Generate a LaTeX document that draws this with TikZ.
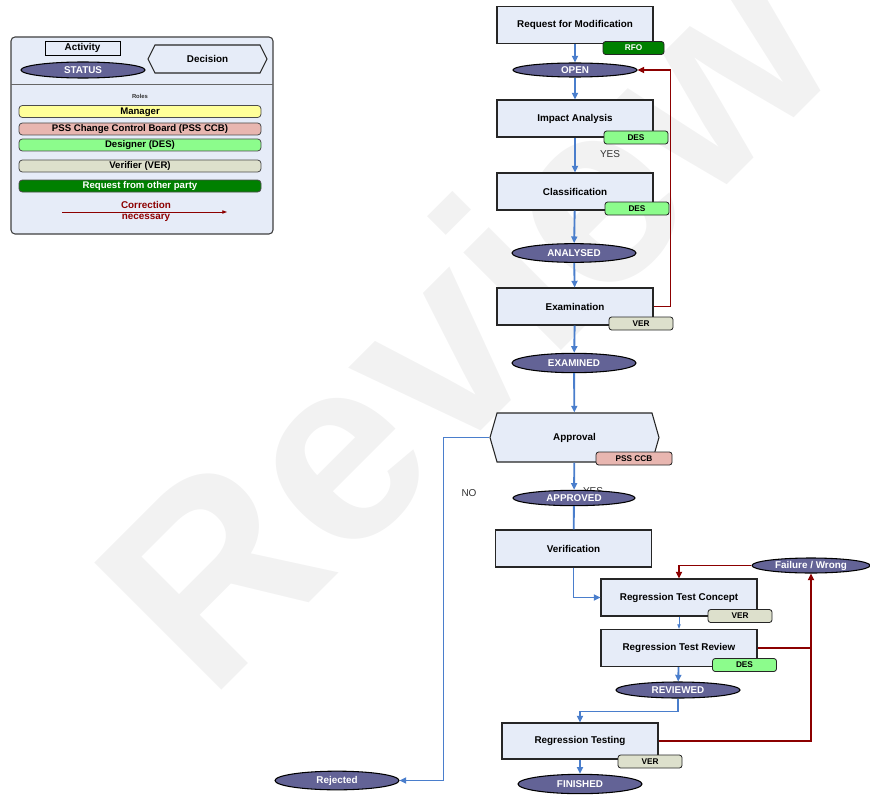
\documentclass[tikz,border=0pt]{standalone}
\usepackage{fontspec}
\setmainfont{Liberation Sans}
\usetikzlibrary{shapes.geometric,shapes.symbols,arrows.meta}

\definecolor{actfill}{RGB}{230,236,248}
\definecolor{statfill}{RGB}{99,99,150}
\definecolor{flowblue}{RGB}{74,126,204}
\definecolor{corrred}{RGB}{140,0,0}
\definecolor{rfogreen}{RGB}{0,128,0}
\definecolor{desgreen}{RGB}{140,252,140}
\definecolor{vergray}{RGB}{221,224,204}
\definecolor{ccbrose}{RGB}{232,182,176}
\definecolor{mgryellow}{RGB}{255,255,153}

\tikzset{
  activity/.style={draw=black!85, line width=0.8pt, fill=actfill, minimum width=117pt, minimum height=27.75pt, inner sep=0pt, font=\bfseries\fontsize{7.4}{9}\selectfont},
  status/.style={ellipse, draw=black, line width=0.8pt, fill=statfill, text=white, minimum width=93pt, minimum height=13pt, inner sep=0pt, font=\bfseries\fontsize{7.4}{9}\selectfont},
  decision/.style={signal, signal to=west and east, draw=black!85, line width=0.8pt, fill=actfill, inner sep=0pt, font=\bfseries\fontsize{7.4}{9}\selectfont},
  roletag/.style={draw=black!85, rounded corners=2pt, line width=0.6pt, minimum width=48pt, minimum height=9.75pt, inner sep=0pt, font=\bfseries\fontsize{6.2}{7}\selectfont},
  rolebar/.style={draw=black!70, rounded corners=2.5pt, line width=0.6pt, minimum width=181.5pt, minimum height=9pt, inner sep=0pt, text height=5.2pt, text depth=1.4pt, font=\bfseries\fontsize{7.2}{8}\selectfont},
  flow/.style={flowblue, line width=1.4pt, -{Triangle[length=5pt,width=4.5pt]}},
  corr/.style={corrred, line width=1.4pt, -{Triangle[length=5pt,width=4.5pt]}},
  plain/.style={font=\fontsize{7.5}{9}\selectfont, text=black!80},
}

\begin{document}
\begin{tikzpicture}[x=0.75pt,y=0.75pt,yscale=-1,xscale=1]
\useasboundingbox (0,0) rectangle (870,795);

% Watermark
\node [rotate=45, text=black!5, font=\bfseries\fontsize{196}{196}\selectfont] (wm) at (462,318) {Review};

%Legend frame
\draw [rounded corners=3pt, fill=actfill, draw=black!75, line width=0.8pt] (11,37) rectangle (273,234);
\draw [black!60, line width=0.6pt] (11,84) -- (273,84);

% Legend nodes
\node [draw=black, line width=0.6pt, fill=actfill, minimum width=56.25pt, minimum height=10.5pt, inner sep=0pt, font=\bfseries\fontsize{7.4}{9}\selectfont] (lgact) at (82.5,48) {Activity};
\node [status, minimum height=12pt] (lgstat) at (83,70) {STATUS};
\node [decision, minimum width=89.25pt, minimum height=21pt, signal pointer angle=127] (lgdec) at (207.5,59) {Decision};
\node [font=\bfseries\fontsize{4.4}{5}\selectfont, text=black!80] (roles) at (140,96) {Roles};
\node [rolebar, fill=mgryellow] (mgr) at (140,111.5) {Manager};
\node [rolebar, fill=ccbrose] (ccbbar) at (140,129) {PSS Change Control Board (PSS CCB)};
\node [rolebar, fill=desgreen] (desbar) at (140,145) {Designer (DES)};
\node [rolebar, fill=vergray] (verbar) at (140,166) {Verifier (VER)};
\node [rolebar, fill=rfogreen, text=white] (rfobar) at (140,186) {Request from other party};
\coordinate (lgcs) at (62,212);
\coordinate (lgce) at (227,212);
\draw [corrred, line width=0.6pt, -{Triangle[length=3.5pt,width=2.5pt]}] (lgcs) -- (lgce);
\node [align=center, text=corrred, font=\bfseries\fontsize{7.4}{8.4}\selectfont] (lgcorr) at (146,211.5) {Correction\\necessary};

% Activities
\node [activity] (rfm) at (575,25) {Request for Modification};
\node [activity] (impact) at (575,118.5) {Impact Analysis};
\node [activity] (classif) at (575,191.5) {Classification};
\node [activity] (exam) at (575,306.5) {Examination};
\node [decision, minimum width=126.75pt, minimum height=36.75pt, signal pointer angle=148] (approval) at (574.5,437.5) {Approval};
\node [activity] (verif) at (573.5,548.5) {Verification};
\node [activity] (rtc) at (679,597.5) {Regression Test Concept};
\node [activity] (rtr) at (679,648) {Regression Test Review};
\node [activity, minimum height=27pt] (rtest) at (580,741) {Regression Testing};

% Text Node
\node [plain] (yes1) at (610,154) {YES};
\node [plain] (no) at (469,493) {NO};
\node [plain] (yes2) at (593,491) {YES};

% Status
\node [status, minimum height=10.5pt] (open) at (575,70) {OPEN};
\node [status, minimum height=14pt] (analysed) at (574,253) {ANALYSED};
\node [status, minimum height=14.5pt] (examined) at (574,363) {EXAMINED};
\node [status, minimum height=11.5pt, minimum width=91.5pt] (approved) at (574,498) {APPROVED};
\node [status, minimum height=11.25pt, minimum width=88.5pt] (failure) at (811,565.5) {Failure / Wrong};
\node [status, minimum height=12pt] (reviewed) at (678,690) {REVIEWED};
\node [status, minimum height=14.5pt] (finished) at (580,784) {FINISHED};
\node [status, minimum height=14pt] (rejected) at (337,780.5) {Rejected};

% Role tags
\node [roletag, fill=rfogreen, text=white, minimum width=45.75pt] (rfo) at (633.5,48) {RFO};
\node [roletag, fill=desgreen] (des1) at (636,137.5) {DES};
\node [roletag, fill=desgreen] (des2) at (637,208.5) {DES};
\node [roletag, fill=vergray] (ver1) at (641,323.5) {VER};
\node [roletag, fill=ccbrose, minimum width=57pt] (ccb) at (634,458.5) {PSS CCB};
\node [roletag, fill=vergray] (ver2) at (740,616) {VER};
\node [roletag, fill=desgreen] (des3) at (744.5,665) {DES};
\node [roletag, fill=vergray] (ver3) at (650,761.5) {VER};

% Main flow
\draw [flow] (rfm) -- (open);
\draw [flow] (open) -- (impact);
\draw [flow] (impact) -- (classif);
\draw [flow] (classif) -- (analysed);
\draw [flow] (analysed) -- (exam);
\draw [flow] (exam) -- (examined);
\draw [flow] (examined) -- (approval);
\draw [flow] (approval) -- (approved);
\draw [flowblue, line width=1.4pt] (approved) -- (verif);
\draw [flow] (verif.south) |- (rtc.west);
\draw [flowblue, line width=0.6pt, -{Triangle[length=3.5pt,width=2.5pt]}] (rtc) -- (rtr);
\draw [flow] (rtr) -- (reviewed);
\draw [flow] (reviewed.south) -- ++(0,13) -| (rtest.north);
\draw [flow] (rtest) -- (finished);
\draw [flow] (approval.west) -- ++(-46,0) |- (rejected.east);

% Corrections
\coordinate (jn) at (failure.south |- rtr.east);
\draw [corr] (exam.east) -- ++(17,0) |- (open.east);
\draw [corr] (failure.west) -| (rtc.north);
\draw [corr] (rtr.east) -| (failure.south);
\draw [corrred, line width=1.4pt] (rtest.east) -| (jn);

\end{tikzpicture}
\end{document}
